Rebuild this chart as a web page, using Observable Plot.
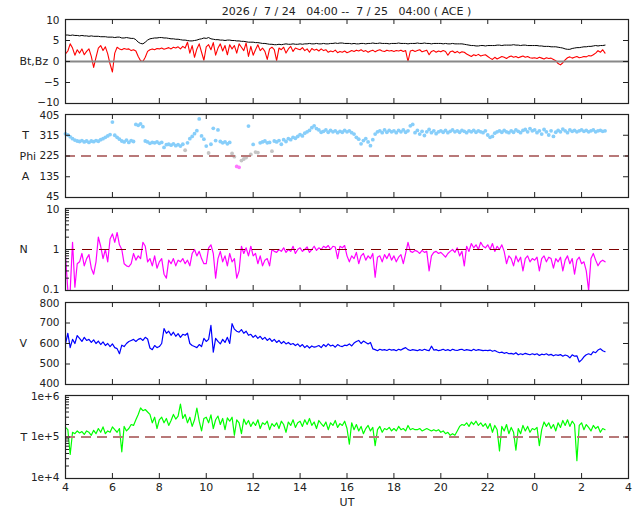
<!DOCTYPE html>
<html><head><meta charset="utf-8">
<script src="https://cdn.jsdelivr.net/npm/d3@7"></script>
<script src="https://cdn.jsdelivr.net/npm/@observablehq/plot@0.6"></script>
<style>
body{margin:0;background:#fff;}
#wrap{position:relative;width:640px;height:512px;font-family:"DejaVu Sans",sans-serif;color:#222;overflow:hidden;}
#title{position:absolute;left:65px;width:563px;top:5px;text-align:center;font-size:11px;white-space:pre;}
#wrap svg{position:absolute;left:0;overflow:visible;}
</style></head><body><div id="wrap"><div id="title"></div></div>
<script>
const titleText = "2026 /  7 / 24   04:00 --  7 / 25   04:00 ( ACE )";
const T0 = 4, STEP = 0.1; // hours UT, 6-minute samples
const xTicks = [4,6,8,10,12,14,16,18,20,22,24,26,28];

const bt = [
6.3,6.3,6.2,6.3,6.2,6.2,6.1,6.2,6.1,6.1,
6.0,6.1,6.0,6.0,6.0,5.9,5.9,5.9,5.8,5.8,
5.8,5.7,5.8,5.8,5.6,5.6,5.7,5.6,5.5,5.5,
5.2,4.6,4.3,4.2,4.6,5.1,5.4,5.5,5.6,5.6,
5.7,5.7,5.6,5.6,5.5,5.4,5.4,5.3,5.3,5.2,
5.1,5.1,5.0,4.9,4.9,5.0,5.1,5.3,5.4,5.6,
5.5,5.7,5.4,5.3,5.2,5.2,5.1,5.1,5.0,5.1,
5.1,5.0,5.0,4.9,4.9,4.8,4.8,4.7,4.6,4.6,
4.6,4.5,4.5,4.4,4.3,4.3,4.2,4.1,4.1,4.0,
4.0,4.1,4.0,4.1,4.2,4.1,4.1,4.2,4.1,4.1,
4.2,4.1,4.2,4.2,4.3,4.2,4.2,4.3,4.2,4.2,
4.3,4.2,4.2,4.3,4.3,4.4,4.3,4.4,4.4,4.3,
4.3,4.3,4.2,4.3,4.2,4.2,4.3,4.3,4.2,4.3,
4.3,4.4,4.3,4.3,4.4,4.3,4.3,4.3,4.2,4.3,
4.3,4.3,4.4,4.3,4.3,4.3,4.2,4.3,4.3,4.3,
4.4,4.3,4.3,4.4,4.3,4.3,4.2,4.3,4.3,4.3,
4.3,4.2,4.3,4.2,4.2,4.3,4.2,4.2,4.2,4.2,
4.1,4.0,3.9,3.8,3.8,3.7,3.7,3.8,3.8,3.7,
3.8,3.8,3.8,3.8,3.9,3.9,3.8,3.9,3.9,3.9,
3.9,4.0,3.9,3.9,3.8,3.9,3.9,3.8,3.8,3.8,
3.8,3.8,3.7,3.7,3.6,3.6,3.6,3.5,3.5,3.5,
3.4,3.3,3.2,3.0,2.9,2.9,3.1,3.2,3.3,3.3,
3.4,3.5,3.5,3.6,3.6,3.7,3.8,3.7,3.8,3.8,
3.9];

const bz = [
1.8,2.5,4.2,3.2,1.5,2.8,2.0,3.0,1.6,2.4,
3.0,1.2,-1.4,1.0,3.2,3.8,2.6,3.5,1.8,-0.6,
-2.5,2.0,3.4,3.0,2.8,3.1,2.9,3.0,2.6,2.8,
2.5,1.2,0.2,0.0,1.0,2.4,2.8,3.0,2.8,3.1,
3.0,3.2,2.9,3.1,3.3,3.0,3.4,3.2,3.5,3.0,
3.6,3.2,4.6,2.0,3.8,1.0,3.0,4.2,2.2,0.3,
3.5,4.0,2.8,4.5,1.5,3.2,4.2,2.5,3.8,1.6,
4.0,3.0,3.8,2.0,4.2,3.4,2.6,4.4,1.2,3.6,
1.5,2.8,4.0,2.6,3.2,2.4,0.5,3.0,3.4,2.8,
0.2,3.2,2.8,3.4,2.0,3.0,3.6,2.4,3.2,3.0,
2.8,3.3,2.6,3.0,2.2,3.1,2.7,2.9,2.5,3.0,
2.6,2.8,2.2,2.5,2.3,2.7,2.1,2.4,2.2,2.5,
2.1,2.3,2.6,2.4,2.7,2.5,2.8,2.4,2.6,2.2,
2.5,2.7,2.3,2.6,2.8,2.5,2.4,2.7,2.5,2.6,
2.4,2.6,2.5,2.7,2.4,2.6,0.0,2.5,2.7,2.4,
2.6,2.8,2.3,2.5,2.7,1.6,2.4,2.6,2.2,2.5,
2.3,2.6,2.4,1.5,2.3,2.5,2.1,2.4,2.0,2.3,
2.2,1.8,1.5,1.2,1.6,1.4,1.7,1.3,1.5,1.6,
1.2,0.8,0.5,1.0,0.6,0.9,1.2,1.0,0.7,1.1,
1.3,1.0,1.2,0.9,1.1,1.3,1.0,1.2,0.9,0.8,
0.9,0.7,1.0,0.8,0.6,0.9,0.7,0.8,0.5,0.2,
-0.5,-0.8,-0.3,0.4,0.9,1.1,0.8,1.0,1.2,0.9,
1.0,1.2,1.1,1.4,1.3,1.6,2.0,2.6,2.2,2.8,
2.0];

const phi = [
321,316,308,300,294,290,288,292,286,290,
284,290,287,292,289,296,300,306,312,318,
372,315,306,298,290,286,294,284,292,288,
362,358,364,352,290,286,280,284,282,286,
280,284,262,274,276,272,278,270,274,268,
276,250,282,300,310,322,335,386,312,298,
268,238,276,345,292,338,288,282,286,278,
284,236,222,180,176,205,212,218,355,232,
275,242,240,282,286,290,282,284,246,290,
286,292,276,296,288,300,296,306,302,310,
318,312,324,330,336,348,356,344,338,328,
332,338,328,336,330,334,326,332,328,336,
330,334,326,320,306,298,278,292,300,286,
270,296,320,330,334,326,338,328,336,330,
334,326,336,330,338,328,334,356,362,326,
336,320,332,314,330,340,326,334,322,330,
334,328,336,326,332,338,330,334,328,336,
332,326,334,330,336,328,334,330,326,334,
316,306,310,324,330,334,328,336,330,326,
334,328,338,332,326,336,340,330,344,334,
338,326,334,320,340,330,316,334,310,328,
336,330,342,334,326,338,332,336,330,334,
338,332,336,330,334,338,330,334,336,332,
334];

const density = [
0.7,0.1,0.1,1.5,0.12,0.45,0.5,0.8,0.4,0.6,
0.75,0.35,0.25,0.5,2.0,1.2,0.6,1.0,0.5,1.8,
2.4,1.5,2.6,1.3,1.0,0.45,0.4,0.38,0.45,0.8,
0.55,0.7,0.6,1.5,1.2,0.5,0.6,0.4,0.7,0.35,
0.5,0.6,0.25,0.2,0.55,0.45,0.6,0.4,0.55,0.5,
0.6,0.45,0.55,0.4,0.8,1.0,0.7,0.9,0.6,0.45,
0.45,1.1,1.3,0.8,0.2,0.6,0.9,0.5,0.7,0.4,
0.8,0.5,0.6,0.2,0.3,1.2,0.8,1.1,0.7,1.2,
0.7,0.8,0.45,0.7,0.4,0.55,0.6,0.4,1.0,0.9,
0.85,1.0,0.9,1.1,0.85,1.0,0.9,1.2,0.8,1.0,
1.1,0.9,1.0,1.15,0.85,1.0,1.2,0.95,1.1,1.0,
1.2,1.1,1.25,1.0,1.2,1.15,0.6,1.2,1.1,1.25,
0.7,0.5,0.7,0.6,0.85,0.45,0.7,0.8,0.55,0.7,
0.6,0.8,0.21,0.65,0.7,0.5,0.75,0.6,0.8,0.55,
0.7,0.5,0.65,0.75,0.45,0.8,1.5,0.9,0.85,0.95,
0.9,0.8,0.95,0.85,0.9,0.3,0.7,0.85,0.9,0.8,
0.85,0.75,0.65,0.8,0.9,1.0,0.85,1.1,0.7,0.9,
0.4,1.2,0.9,1.4,1.1,1.3,1.0,1.5,1.2,1.1,
1.3,1.0,1.4,0.9,1.2,1.0,1.3,0.9,0.45,0.7,
0.6,0.4,0.7,0.5,0.65,0.3,0.6,0.7,0.5,0.6,
0.55,0.65,0.3,0.6,0.7,0.5,0.65,0.6,0.35,0.6,
0.5,0.65,0.3,0.55,0.7,0.45,0.6,0.25,0.55,0.65,
0.45,0.5,0.3,0.1,0.6,0.8,0.55,0.4,0.5,0.55,
0.5];

const speed = [
598,650,580,620,600,639,625,610,630,615,
620,605,618,600,612,595,608,590,600,585,
598,580,575,550,592,585,600,610,615,620,
610,620,625,615,630,622,578,570,590,580,
585,600,673,650,660,640,655,635,648,630,
645,640,650,600,590,585,580,595,585,625,
610,620,688,558,625,610,598,620,605,630,
600,697,670,660,655,668,650,660,640,645,
630,640,625,635,620,630,615,625,610,620,
605,615,600,610,598,605,595,600,590,598,
585,595,580,590,578,588,582,585,590,580,
595,585,598,588,592,582,595,588,585,592,
590,598,588,602,610,615,600,612,605,598,
605,574,570,565,572,568,570,566,572,568,
570,565,572,568,575,580,570,566,570,568,
565,570,566,572,568,565,587,568,570,565,
568,572,566,570,565,572,568,566,570,572,
566,570,568,565,572,566,570,568,565,567,
565,568,562,566,560,555,558,552,556,550,
552,548,555,545,550,546,552,548,545,550,
546,550,542,548,545,550,543,547,540,545,
542,546,538,544,540,530,545,538,540,510,
520,535,545,550,545,560,555,568,574,565,
560];

// temperature in units of 1e5 K
const tempE5 = [
1.7,1.5,0.38,1.3,1.2,1.4,1.25,1.35,1.15,1.4,
1.3,1.1,1.45,1.2,1.6,1.3,1.75,1.2,1.4,1.3,
1.75,1.5,1.3,1.6,0.44,1.8,1.4,1.6,2.0,1.9,
2.6,3.5,5.0,4.3,4.6,4.0,3.5,2.2,3.0,1.6,
2.6,3.0,2.2,2.8,1.9,2.5,3.5,2.7,3.2,6.2,
2.8,3.5,2.2,3.0,1.8,2.6,5.0,2.4,1.4,2.8,
3.0,2.2,3.4,1.6,2.6,3.2,2.0,2.8,1.5,2.9,
2.4,3.0,1.1,2.6,2.2,1.2,2.7,2.0,2.5,1.8,
2.3,1.9,2.6,1.6,2.2,2.0,2.4,1.5,2.1,1.8,
2.2,1.6,2.4,2.0,1.3,2.3,1.9,2.6,1.7,2.2,
2.4,1.8,2.6,2.0,2.8,1.9,2.3,1.6,2.5,2.1,
1.8,2.3,1.5,2.2,1.9,2.5,1.7,2.1,1.9,2.4,
1.6,0.67,2.2,1.5,2.0,1.4,1.8,1.2,1.6,1.9,
1.4,1.7,0.62,1.5,1.8,1.3,1.6,1.5,1.7,1.4,
1.6,1.4,1.8,1.5,1.6,1.4,1.9,1.5,1.6,1.5,
1.5,1.6,1.4,1.5,1.6,1.5,1.4,1.5,1.4,1.5,
1.3,1.4,1.2,1.3,1.1,1.2,1.1,1.4,1.8,2.0,
1.9,2.2,1.8,2.3,2.0,2.4,1.9,2.2,1.8,2.1,
1.6,2.1,1.3,1.9,1.5,0.46,1.8,1.4,2.0,1.2,
1.7,1.3,0.48,1.6,1.2,1.9,1.4,1.8,1.3,1.6,
1.5,1.7,0.62,1.5,2.3,1.8,2.2,1.6,2.0,1.4,
2.2,1.7,2.5,1.9,2.6,1.8,2.4,2.0,0.27,1.9,
2.2,1.5,2.0,1.7,1.4,1.9,1.6,1.8,1.3,1.6,
1.5];

// axis ticks, reference lines and panel labels
const bTicks = [-10,-5,0,5,10];
const phiTicks = [45,135,225,315,405];
const nTicks = [0.1,1,10];
const nMinor = [0.2,0.3,0.4,0.5,0.6,0.7,0.8,0.9,2,3,4,5,6,7,8,9];
const vTicks = [400,500,600,700,800];
const tTicks = [1e4,1e5,1e6];
const tMinor = [2e4,3e4,4e4,5e4,6e4,7e4,8e4,9e4,2e5,3e5,4e5,5e5,6e5,7e5,8e5,9e5];
const bRef = [0], phiRef = [225], nRef = [1], tRef = [1e5];
const bLabels = [{v:0, text:"Bt,Bz"}];
const phiLabelsA = [{v:225, text:"Phi"}];
const phiLabelsB = [{v:315, text:"T"},{v:135, text:"A"}];
const nLabels = [{v:1, text:"N"}];
const vLabels = [{v:600, text:"V"}];
const tLabels = [{v:1e5, text:"T"}];

const rows = arr => arr.map((v,i)=>({t: T0 + i*STEP, v}));

document.getElementById("title").textContent = titleText;
const wrap = document.getElementById("wrap");
const IW = 640 - 65 - 12;
const INK = "#222";
const TICKFONT = 10.5;

function panel({top, bottom, y, ticks, fmt, minor = [], marks, bottomAxis = false}) {
  const mt = 8, mb = bottomAxis ? 36 : 8;
  const h = bottom - top;
  const lo = ticks[0], hi = ticks[ticks.length - 1];
  const inner = ticks.slice(1, -1);
  const extra = bottomAxis ? [
    Plot.axisX(xTicks, {tickSize: 0, tickPadding: 5, tickFormat: d => String(d % 24), label: null, fontSize: 11}),
    Plot.text(["UT"], {frameAnchor: "bottom", dy: 27, text: d => d, fontSize: 11, fill: INK})
  ] : [];
  const svg = Plot.plot({
    width: 640, height: h + mt + mb,
    marginLeft: 65, marginRight: 12, marginTop: mt, marginBottom: mb,
    style: {fontFamily: "DejaVu Sans, sans-serif", fontSize: "11px", color: INK, background: "transparent", overflow: "visible"},
    x: bottomAxis ? {domain: [4, 28]} : {domain: [4, 28], axis: null},
    y,
    marks: [
      ...marks,
      Plot.frame({stroke: INK, strokeWidth: 1.2}),
      Plot.tickX(xTicks, {x: d => d, insetBottom: h - 5, stroke: INK}),
      Plot.tickX(xTicks, {x: d => d, insetTop: h - 5, stroke: INK}),
      Plot.tickY(ticks, {y: d => d, insetRight: IW - 5, stroke: INK}),
      Plot.tickY(ticks, {y: d => d, insetLeft: IW - 5, stroke: INK}),
      Plot.tickY(minor, {y: d => d, insetRight: IW - 4, stroke: INK}),
      Plot.axisY(inner, {tickSize: 0, tickPadding: 6, tickFormat: fmt, label: null, fontSize: TICKFONT}),
      Plot.axisY([hi], {tickSize: 0, tickPadding: 6, tickFormat: fmt, label: null, fontSize: TICKFONT, dy: 1}),
      Plot.axisY([lo], {tickSize: 0, tickPadding: 6, tickFormat: fmt, label: null, fontSize: TICKFONT, dy: -1}),
      ...extra
    ]
  });
  svg.style.top = (top - mt) + "px";
  wrap.appendChild(svg);
}

const lbl = (data, dx, anchor = "start") =>
  Plot.text(data, {y: "v", text: "text", frameAnchor: "left", dx, textAnchor: anchor, fontSize: 11, fill: INK});

// Panel 1: Bt, Bz
panel({
  top: 19, bottom: 103,
  y: {domain: [-10, 10]},
  ticks: bTicks, fmt: d => d < 0 ? "\u2212" + Math.abs(d) : String(d),
  marks: [
    Plot.line(rows(bt), {x: "t", y: "v", stroke: "#000", strokeWidth: 1}),
    Plot.line(rows(bz), {x: "t", y: "v", stroke: "#ff0000", strokeWidth: 1.1}),
    Plot.ruleY(bRef, {stroke: "#888", strokeWidth: 2}),
    lbl(bLabels, -46)
  ]
});

// Panel 2: Phi
panel({
  top: 114, bottom: 197,
  y: {domain: [45, 405]},
  ticks: phiTicks, fmt: d => String(d),
  marks: [
    Plot.dot(rows(phi), {x: "t", y: "v", r: 1.9, stroke: null,
      fill: d => d.v >= 255 ? "#87cefa" : d.v >= 195 ? "#c4c4c4" : "#ff77ff"}),
    Plot.ruleY(phiRef, {stroke: "#b87878", strokeWidth: 2, strokeDasharray: "10,6"}),
    lbl(phiLabelsA, -46),
    lbl(phiLabelsB, -40, "middle")
  ]
});

// Panel 3: N
panel({
  top: 208, bottom: 290,
  y: {type: "log", domain: [0.1, 10]},
  ticks: nTicks, minor: nMinor, fmt: d => String(d),
  marks: [
    Plot.line(rows(density), {x: "t", y: "v", stroke: "#ff00ff", strokeWidth: 1.2}),
    Plot.ruleY(nRef, {stroke: "#800000", strokeWidth: 1.2, strokeDasharray: "10,7"}),
    lbl(nLabels, -46)
  ]
});

// Panel 4: V
panel({
  top: 302, bottom: 384,
  y: {domain: [400, 800]},
  ticks: vTicks, fmt: d => String(d),
  marks: [
    Plot.line(rows(speed), {x: "t", y: "v", stroke: "#0000ff", strokeWidth: 1.2}),
    lbl(vLabels, -46)
  ]
});

// Panel 5: T
panel({
  top: 395, bottom: 478,
  y: {type: "log", domain: [1e4, 1e6]},
  ticks: tTicks, minor: tMinor, fmt: d => d.toExponential(0),
  bottomAxis: true,
  marks: [
    Plot.line(rows(tempE5), {x: "t", y: d => d.v * 1e5, stroke: "#00ff00", strokeWidth: 1.2}),
    Plot.ruleY(tRef, {stroke: "#b87878", strokeWidth: 2, strokeDasharray: "10,6"}),
    lbl(tLabels, -45)
  ]
});
</script></body></html>
